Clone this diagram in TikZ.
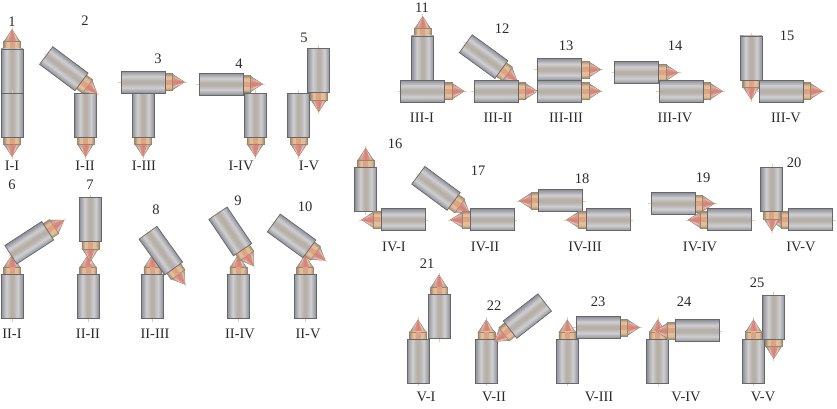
\documentclass[tikz,border=0pt]{standalone}
\usepackage{fontspec}
\setmainfont{Liberation Serif}
\definecolor{pedge}{HTML}{8E8F95}
\definecolor{plight}{HTML}{CFCFD2}
\definecolor{pmid}{HTML}{B6B0A8}
\definecolor{pline}{HTML}{65676D}
\definecolor{ptanE}{HTML}{9C8672}
\definecolor{ptanL}{HTML}{E2BE94}
\definecolor{pconeE}{HTML}{9A8F8A}
\definecolor{pconeM}{HTML}{E6CCC2}
\definecolor{ppink}{HTML}{DA8074}
\definecolor{paxis}{HTML}{EBCBA0}
\definecolor{ptxt}{HTML}{2B2B2B}
\pgfdeclareverticalshading{probebody}{100bp}{color(0bp)=(pedge); color(25bp)=(pedge); color(37bp)=(plight); color(47bp)=(pmid); color(53bp)=(pmid); color(63bp)=(plight); color(75bp)=(pedge); color(100bp)=(pedge)}
\pgfdeclareverticalshading{probeband}{100bp}{color(0bp)=(ptanE); color(25bp)=(ptanE); color(34bp)=(ptanL); color(66bp)=(ptanL); color(75bp)=(ptanE); color(100bp)=(ptanE)}
\pgfdeclareverticalshading{probecone}{100bp}{color(0bp)=(pconeE); color(25bp)=(pconeE); color(42bp)=(pconeM); color(58bp)=(pconeM); color(75bp)=(pconeE); color(100bp)=(pconeE)}
\pgfdeclareverticalshading{probecore}{100bp}{color(0bp)=(ppink!60!pconeM); color(25bp)=(ppink!60!pconeM); color(50bp)=(ppink); color(75bp)=(ppink!60!pconeM); color(100bp)=(ppink!60!pconeM)}
\tikzset{
  lab/.style={inner sep=0pt,text=ptxt,font=\fontsize{14.5}{14.5}\selectfont},
  axisline/.style={draw=paxis,line width=0.5pt},
  bodyshape/.style={shading=probebody,draw=pline,line width=0.7pt},
  coneshape/.style={shading=probecone,draw=ptanE,line width=0.5pt},
  bandshape/.style={shading=probeband,draw=ptanE,line width=0.5pt},
  pinkshape/.style={shading=probecore}
}
% back-centre x, y in reference pixels, direction of the tip in degrees
\newcommand\probe[3]{%
  \begin{scope}[transform canvas={shift={(#1,{408-#2})},rotate=#3}]
    \draw[axisline] (-3,0) -- (66,0);
    \path[coneshape] (51.5,-8) -- (53,-6.8) -- (63.5,0) -- (53,6.8) -- (51.5,8) -- cycle;
    \path[pinkshape] (51.5,-4.5) -- (63.5,0) -- (51.5,4.5) -- cycle;
    \path[bandshape] (44,-8.5) rectangle (51.5,8.5);
    \fill[ppink!45!ptanL] (44,-2.5) rectangle (51.2,2.5);
    \path[bodyshape] (0,-11) rectangle (44,11);
  \end{scope}}
\newcommand\lab[4]{\node[lab] (#1) at (#2,{408-#3}) {#4};}
\begin{document}
\begin{tikzpicture}[x=1pt,y=1pt]
\useasboundingbox (0,0) rectangle (837,408);
\fill[white] (0,0) rectangle (837,408);
% I
\probe{12}{93}{90}\probe{12}{93}{-90}
\probe{85.5}{93}{-90}\probe{46.2}{55.5}{-36.8}
\probe{143}{93}{-90}\probe{121}{82}{0}
\probe{199}{84}{0}\probe{255.3}{93}{-90}
\probe{298.7}{93}{-90}\probe{318.7}{48.3}{-90}
% II
\probe{12}{318.5}{90}\probe{10.8}{254.7}{33}
\probe{88}{318.5}{90}\probe{90.3}{197.7}{-90}
\probe{152.3}{318.5}{90}\probe{148}{232.8}{-54.3}
\probe{238.3}{318.5}{90}\probe{218}{213.2}{-56}
\probe{305}{318.5}{90}\probe{273.8}{223}{-36}
% III
\probe{422.7}{80}{90}\probe{400.7}{91.2}{0}
\probe{465.8}{43.7}{-36}\probe{474}{91.2}{0}
\probe{537.3}{69.5}{0}\probe{537.3}{91.2}{0}
\probe{614.7}{72.7}{0}\probe{659}{91.2}{0}
\probe{751.2}{36}{-90}\probe{759}{91.2}{0}
% IV
\probe{365.7}{211.7}{90}\probe{425}{219.8}{180}
\probe{418.3}{175.3}{-36.5}\probe{514}{219.8}{180}
\probe{582.7}{200.8}{180}\probe{630}{219.8}{180}
\probe{651}{203.5}{0}\probe{751.7}{219.8}{180}
\probe{832.7}{219.8}{180}\probe{771.8}{167.3}{-90}
% V
\probe{439}{338.5}{90}\probe{418}{383.3}{90}
\probe{486.3}{383.3}{90}\probe{544.7}{302.5}{218}
\probe{567.3}{383.3}{90}\probe{576}{327.5}{0}
\probe{657.8}{383.3}{90}\probe{719}{330.8}{180}
\probe{753.5}{383.3}{90}\probe{773.7}{295}{-90}
% numbers
\lab{n1}{12}{22}{1}\lab{n2}{85}{21}{2}\lab{n3}{158}{59}{3}\lab{n4}{239}{64}{4}\lab{n5}{304}{38}{5}
\lab{n6}{12}{185}{6}\lab{n7}{90}{185}{7}\lab{n8}{156}{210}{8}\lab{n9}{238}{201}{9}\lab{n10}{305}{207}{10}
\lab{n11}{422}{8}{11}\lab{n12}{502}{29}{12}\lab{n13}{566}{46}{13}\lab{n14}{675}{46}{14}\lab{n15}{787}{36}{15}
\lab{n16}{395}{144}{16}\lab{n17}{478}{171}{17}\lab{n18}{582}{179}{18}\lab{n19}{703}{178}{19}\lab{n20}{794}{163}{20}
\lab{n21}{427}{264}{21}\lab{n22}{494}{306}{22}\lab{n23}{598}{302}{23}\lab{n24}{684}{302}{24}\lab{n25}{757}{282.5}{25}
% classes
\lab{r11}{12}{166}{I-I}\lab{r12}{85}{166}{I-II}\lab{r13}{144}{166}{I-III}\lab{r14}{241}{166}{I-IV}\lab{r15}{309}{166}{I-V}
\lab{r21}{12}{334}{II-I}\lab{r22}{88}{334}{II-II}\lab{r23}{155}{334}{II-III}\lab{r24}{240}{334}{II-IV}\lab{r25}{308}{334}{II-V}
\lab{r31}{422}{118}{III-I}\lab{r32}{498}{118}{III-II}\lab{r33}{566}{118}{III-III}\lab{r34}{675}{118}{III-IV}\lab{r35}{786}{118}{III-V}
\lab{r41}{394}{247}{IV-I}\lab{r42}{485}{247}{IV-II}\lab{r43}{585}{247}{IV-III}\lab{r44}{700}{247}{IV-IV}\lab{r45}{801}{247}{IV-V}
\lab{r51}{426}{397}{V-I}\lab{r52}{494}{397}{V-II}\lab{r53}{599}{397}{V-III}\lab{r54}{686}{397}{V-IV}\lab{r55}{763}{397}{V-V}
\end{tikzpicture}
\end{document}
